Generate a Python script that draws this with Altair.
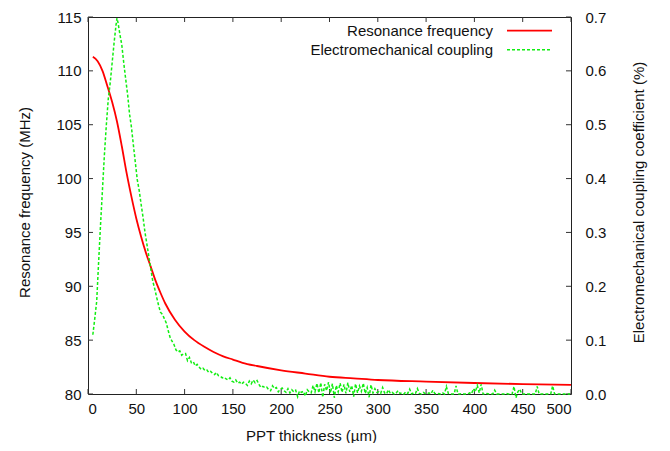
import altair as alt
import pandas as pd

# Resonance frequency (MHz) vs PPT thickness (um)
red_x = [5, 10, 15, 20, 25, 30, 35, 40, 45, 50, 55, 60, 65, 70, 75, 80, 90, 100,
         110, 120, 130, 140, 150, 160, 175, 200, 225, 250, 275, 300, 350, 400, 450, 500]
red_f = [111.3, 110.9, 110.0, 108.6, 107.1, 105.3, 103.0, 100.5, 98.3, 96.3, 94.6,
         93.1, 91.8, 90.5, 89.4, 88.4, 86.9, 85.8, 85.0, 84.4, 83.9, 83.5, 83.2, 82.9,
         82.6, 82.2, 81.9, 81.6, 81.45, 81.3, 81.15, 81.02, 80.92, 80.85]

# Electromechanical coupling coefficient (%) - main peak
green_x_main = [5, 7, 9, 11, 13, 15, 17, 19, 21, 23, 25, 27, 29, 30, 31, 33, 35, 37, 39,
                41, 43, 45, 47, 49, 51, 53, 55, 57, 59, 61, 63, 65, 67, 69, 71, 73, 75,
                77, 79, 81, 83, 85, 87, 89, 91, 93, 95, 97, 99]
green_y_main = [0.110, 0.140, 0.172, 0.245, 0.315, 0.380, 0.445, 0.500, 0.548, 0.578,
                0.615, 0.652, 0.685, 0.698, 0.690, 0.668, 0.648, 0.615, 0.585, 0.556,
                0.520, 0.495, 0.462, 0.430, 0.398, 0.378, 0.352, 0.328, 0.300, 0.278,
                0.255, 0.232, 0.210, 0.196, 0.180, 0.165, 0.152, 0.148, 0.140, 0.132,
                0.118, 0.105, 0.098, 0.092, 0.082, 0.078, 0.080, 0.072, 0.075]

# Noisy tail, every 2 um from 101 to 499
green_x_tail = list(range(101, 500, 2))
green_y_tail = [
    0.075, 0.062, 0.068, 0.058, 0.060, 0.052, 0.055, 0.050, 0.046, 0.048,
    0.044, 0.045, 0.040, 0.042, 0.038, 0.036, 0.040, 0.034, 0.033, 0.030,
    0.031, 0.028, 0.026, 0.030, 0.024, 0.022, 0.026, 0.020, 0.022, 0.018,
    0.022, 0.020, 0.016, 0.024, 0.019, 0.026, 0.021, 0.025, 0.018, 0.012,
    0.014, 0.012, 0.013, 0.008, 0.006, 0.015, 0.010, 0.012, 0.004, 0.009,
    0.011, 0.006, 0.003, 0.010, 0.002, 0.008, 0.004, 0.007, -0.005, 0.006,
    0.003, 0.005, -0.004, 0.008, 0.004, 0.002, 0.016, 0.004, 0.020, 0.002,
    0.021, -0.006, 0.018, 0.006, 0.022, 0.002, 0.019, -0.007, 0.016, 0.004,
    0.020, 0.003, 0.018, 0.001, 0.021, 0.004, 0.016, -0.005, 0.019, 0.002,
    0.015, 0.005, 0.020, 0.001, 0.012, -0.006, 0.017, 0.002, 0.010, 0.003,
    0.004, 0.001, 0.012, 0.002, 0.000, 0.008, 0.001, 0.003, 0.000, 0.002,
    0.006, 0.001, 0.002, 0.000, 0.004, 0.001, 0.009, 0.000, 0.002, 0.001,
    0.010, 0.001, 0.000, 0.003, 0.001, 0.000, 0.002, 0.000, 0.007, 0.001,
    0.000, 0.001, 0.000, 0.002, 0.000, 0.014, 0.001, 0.000, 0.000, 0.000,
    0.015, 0.000, 0.000, 0.001, 0.000, 0.000, 0.000, 0.002, 0.000, 0.010,
    0.004, 0.016, 0.002, 0.018, 0.000, 0.000, 0.001, 0.000, 0.000, 0.000,
    0.007, 0.000, 0.000, 0.000, 0.000, 0.000, 0.001, 0.000, 0.000, 0.000,
    0.014, -0.007, 0.004, 0.009, 0.000, 0.000, 0.000, 0.000, 0.000, 0.000,
    0.000, 0.000, 0.014, 0.000, 0.000, 0.000, 0.000, 0.000, 0.000, 0.000,
    0.015, 0.000, 0.000, 0.000, 0.000, 0.000, 0.000, 0.000, 0.000, 0.000,
]

x_ticks = [0, 50, 100, 150, 200, 250, 300, 350, 400, 450, 500]
y_left_ticks = [80, 85, 90, 95, 100, 105, 110, 115]
y_right_ticks = [0, 0.1, 0.2, 0.3, 0.4, 0.5, 0.6, 0.7]
legend_labels = ["Resonance frequency", "Electromechanical coupling"]

W, H = 483, 377
FONT = "Liberation Sans"
FS = 15
GREEN = "#11ee11"

red_df = pd.DataFrame({"thk": red_x, "f": red_f})
green_df = pd.DataFrame({"thk": green_x_main + green_x_tail,
                         "k": green_y_main + green_y_tail})
xt_df = pd.DataFrame({"t": x_ticks})
yt_df = pd.DataFrame({"v": y_left_ticks})
one = pd.DataFrame({"a": [0]})

xscale = alt.Scale(domain=[0, 500], nice=False, zero=False)
yl_scale = alt.Scale(domain=[80, 115], nice=False, zero=False)
yr_scale = alt.Scale(domain=[0, 0.7], nice=False, zero=False)

red = alt.Chart(red_df).mark_line(color="#ff0000", strokeWidth=1.8,
                                  interpolate="monotone").encode(
    x=alt.X("thk:Q", scale=xscale,
            axis=alt.Axis(values=x_ticks, title="PPT thickness (µm)", labelPadding=7,
                          titleX=223, titleY=41, titleBaseline="middle",
                          titleAnchor="start", titleAlign="center")),
    y=alt.Y("f:Q", scale=yl_scale,
            axis=alt.Axis(values=y_left_ticks, title="Resonance frequency (MHz)",
                          orient="left", labelPadding=7, titleX=-64, titleY=185,
                          titleBaseline="middle", titleAngle=270)),
)

bottom_ticks = alt.Chart(xt_df).mark_rule(color="#333", strokeWidth=1).encode(
    x=alt.X("t:Q", scale=xscale), y=alt.value(H), y2=alt.value(H - 5))
top_ticks = alt.Chart(xt_df).mark_rule(color="#333", strokeWidth=1).encode(
    x=alt.X("t:Q", scale=xscale), y=alt.value(0), y2=alt.value(5))
left_ticks = alt.Chart(yt_df).mark_rule(color="#333", strokeWidth=1).encode(
    y=alt.Y("v:Q", scale=yl_scale), x=alt.value(0), x2=alt.value(5))
right_ticks = alt.Chart(yt_df).mark_rule(color="#333", strokeWidth=1).encode(
    y=alt.Y("v:Q", scale=yl_scale), x=alt.value(W), x2=alt.value(W - 5))

leg1_text = alt.Chart(one).mark_text(align="right", baseline="middle", font=FONT,
                                     fontSize=FS, color="#111").encode(
    x=alt.value(405), y=alt.value(13.5), text=alt.value(legend_labels[0]))
leg2_text = alt.Chart(one).mark_text(align="right", baseline="middle", font=FONT,
                                     fontSize=FS, color="#111").encode(
    x=alt.value(405), y=alt.value(32.5), text=alt.value(legend_labels[1]))
leg1_line = alt.Chart(one).mark_rule(color="#ff0000", strokeWidth=1.8).encode(
    x=alt.value(419), x2=alt.value(464), y=alt.value(13.7))
leg2_line = alt.Chart(one).mark_rule(color=GREEN, strokeWidth=1.5,
                                     strokeDash=[3, 2]).encode(
    x=alt.value(419), x2=alt.value(464), y=alt.value(32.7))

left_layer = alt.layer(bottom_ticks, top_ticks, left_ticks, right_ticks, red,
                       leg1_text, leg2_text, leg1_line, leg2_line)

green = alt.Chart(green_df).mark_line(color=GREEN, strokeWidth=1.5,
                                      strokeDash=[3, 2]).encode(
    x=alt.X("thk:Q", scale=xscale),
    y=alt.Y("k:Q", scale=yr_scale,
            axis=alt.Axis(values=y_right_ticks, orient="right",
                          title="Electromechanical coupling coefficient (%)",
                          labelPadding=14, titleX=67, titleY=185,
                          titleBaseline="middle", titleAngle=270)),
)

chart = alt.layer(left_layer, green).resolve_scale(y="independent").properties(
    width=W, height=H,
    autosize=alt.AutoSizeParams(type="none"),
    padding={"left": 80, "top": 9, "right": 91, "bottom": 49},
).configure_view(stroke="#222", strokeWidth=1).configure_axis(
    domain=False, grid=False, ticks=False, labelFont=FONT, titleFont=FONT,
    labelFontSize=FS, titleFontSize=FS, labelColor="#111", titleColor="#111",
    titleFontWeight="normal",
)

chart.save("out.html", embed_options={"renderer": "svg", "actions": False})
